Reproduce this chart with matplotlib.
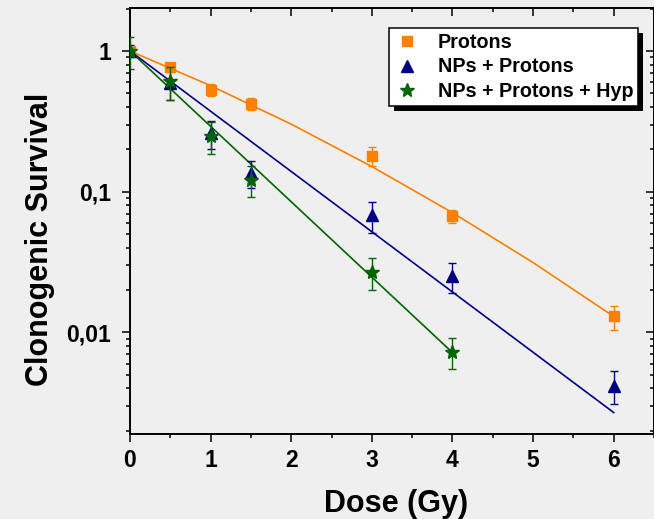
import numpy as np
import matplotlib
matplotlib.use("Agg")
from matplotlib import pyplot as plt
from matplotlib.lines import Line2D
from matplotlib.patches import Rectangle
from matplotlib.transforms import IdentityTransform
from matplotlib.ticker import FixedLocator, LogLocator, NullFormatter, MultipleLocator

# measured points (dose in Gy, survival fraction)
dose = [0, 0.5, 1, 1.5, 3, 4, 6]
protons = [1.0, 0.77, 0.53, 0.42, 0.18, 0.067, 0.013]
protons_err = [0.08, 0.05, 0.05, 0.04, 0.028, 0.0075, 0.0025]

nps = [1.0, 0.59, 0.26, 0.136, 0.068, 0.025, 0.0042]
nps_err = [0.1, 0.14, 0.06, 0.03, 0.017, 0.006, 0.0011]

dose_hyp = [0, 0.5, 1, 1.5, 3, 4]
hyp = [1.0, 0.61, 0.25, 0.122, 0.027, 0.0073]
hyp_err = [0.25, 0.16, 0.065, 0.03, 0.0068, 0.0018]

# fitted curves
fit_protons_x = [0, 1, 2, 3, 4, 5, 6]
fit_protons_y = [1.0, 0.567, 0.302, 0.151, 0.071, 0.0314, 0.013]
fit_nps_x = [0, 6]
fit_nps_y = [1.0, 0.0027]
fit_hyp_x = [0, 4]
fit_hyp_y = [1.0, 0.0072]

labels = ["Protons", "NPs + Protons", "NPs + Protons + Hyp"]
ytick_vals = [0.01, 0.1, 1]
ytick_labels = ["0,01", "0,1", "1"]
xtick_vals = [0, 1, 2, 3, 4, 5, 6]

orange = "#ff8000"
navy = "#000080"
green = "#006400"
bg = "#efefef"

plt.rcParams["font.family"] = ["Liberation Sans", "DejaVu Sans"]
plt.rcParams["font.weight"] = "bold"

fig = plt.figure(figsize=(6.54, 5.19), dpi=100, facecolor=bg)
ax = fig.add_axes([130 / 654, 85 / 519, 524 / 654, 426 / 519])
ax.set_facecolor(bg)

ax.plot(fit_protons_x, fit_protons_y, color=orange, lw=1.2, zorder=2)
ax.plot(fit_nps_x, fit_nps_y, color=navy, lw=1.2, zorder=2)
ax.plot(fit_hyp_x, fit_hyp_y, color=green, lw=1.2, zorder=2)

ax.errorbar(dose, protons, yerr=protons_err, fmt="s", color=orange, ms=7,
            capsize=3.2, elinewidth=1, capthick=1, zorder=3)
ax.errorbar(dose, nps, yerr=nps_err, fmt="^", color=navy, ms=9,
            capsize=3.2, elinewidth=1, capthick=1, zorder=3)
ax.errorbar(dose_hyp, hyp, yerr=hyp_err, fmt="*", color=green, ms=10,
            capsize=3.2, elinewidth=1, capthick=1, zorder=4)

ax.set_yscale("log")
ax.set_xlim(0, 6.5)
ax.set_ylim(0.0019, 2.02)

ax.yaxis.set_major_locator(FixedLocator(ytick_vals))
ax.set_yticklabels(ytick_labels)
ax.yaxis.set_minor_locator(LogLocator(base=10, subs=np.arange(2, 10)))
ax.yaxis.set_minor_formatter(NullFormatter())
ax.set_xticks(xtick_vals)
ax.xaxis.set_minor_locator(MultipleLocator(0.5))

for s in ax.spines.values():
    s.set_linewidth(1.4)

ax.tick_params(axis="both", which="major", labelsize=16.5, width=1.1, length=5.5)
ax.tick_params(axis="both", which="minor", width=1.1, length=3)
ax.tick_params(axis="y", which="both", direction="out", pad=8)
ax.tick_params(axis="x", which="both", direction="out", pad=5)
ax.tick_params(which="both", top=True, right=True)

# top and right ticks point inward
for tk in ax.xaxis.get_major_ticks() + ax.xaxis.get_minor_ticks():
    tk.tick2line.set_marker(3)
for tk in ax.yaxis.get_major_ticks() + ax.yaxis.get_minor_ticks():
    tk.tick2line.set_marker(0)

for lab in ax.get_xticklabels() + ax.get_yticklabels():
    lab.set_fontweight("bold")

ax.set_xlabel("Dose (Gy)", fontsize=22, fontweight="bold")
ax.set_ylabel("Clonogenic Survival", fontsize=22, fontweight="bold")
ax.xaxis.set_label_coords(266 / 524, -55 / 426)
ax.yaxis.set_label_coords(-75 / 524, 0.458)

handles = [
    Line2D([], [], ls="none", marker="s", color=orange, ms=7),
    Line2D([], [], ls="none", marker="^", color=navy, ms=9),
    Line2D([], [], ls="none", marker="*", color=green, ms=10),
]
leg = ax.legend(handles, labels, loc="upper right",
                bbox_to_anchor=(508 / 524, 406 / 426),
                frameon=True, fancybox=False, edgecolor="black",
                facecolor="white", framealpha=1,
                prop={"weight": "bold", "size": 14.2}, handletextpad=0.9,
                borderpad=0.25, labelspacing=0.28, handlelength=1.3,
                borderaxespad=0)
leg.get_frame().set_linewidth(1.1)
leg.set_zorder(6)

# hard drop shadow behind the legend
fig.canvas.draw()
bb = leg.get_frame().get_window_extent()
shadow = Rectangle((bb.x0 + 5, bb.y0 - 5), bb.width, bb.height,
                   transform=IdentityTransform(), facecolor="black",
                   edgecolor="none", zorder=5.5, clip_on=False)
ax.add_patch(shadow)

plt.savefig("out.png", dpi=100, facecolor=bg)
